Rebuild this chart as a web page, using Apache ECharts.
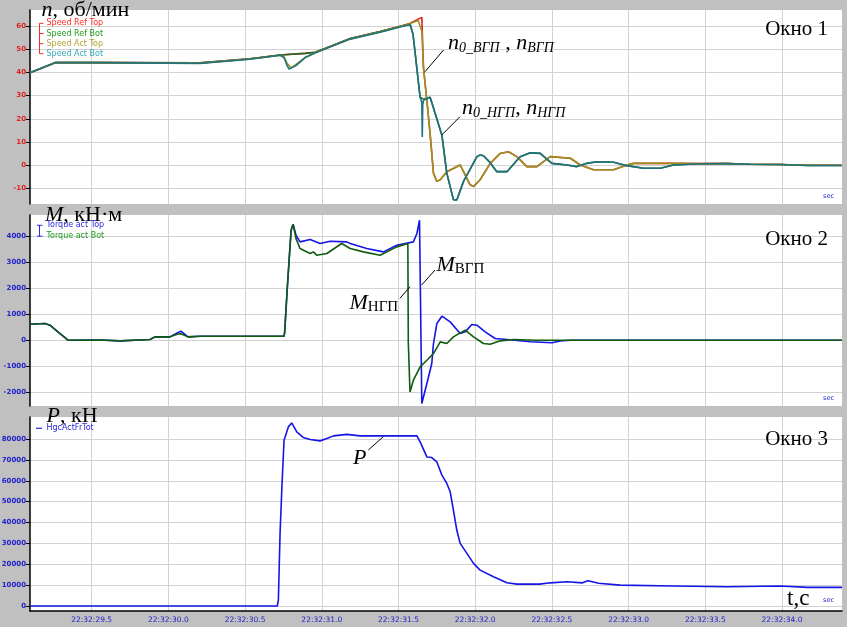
<!DOCTYPE html>
<html><head><meta charset="utf-8">
<script src="https://cdn.jsdelivr.net/npm/echarts@6/dist/echarts.min.js"></script>
<style>html,body{margin:0;padding:0;background:#c0c0c0}#c{width:847px;height:627px}</style>
</head><body><div id="c"></div><script>
// ---- tick labels ----
const xTicks = [29.5, 30, 30.5, 31, 31.5, 32, 32.5, 33, 33.5, 34];
const speedTicks = [-10, 0, 10, 20, 30, 40, 50, 60];
const torqueTicks = [-2000, -1000, 0, 1000, 2000, 3000, 4000];
const forceTicks = [0, 10000, 20000, 30000, 40000, 50000, 60000, 70000, 80000];
const seriesNames1 = ['Speed Ref Top', 'Speed Ref Bot', 'Speed Act Top', 'Speed Act Bot'];
const seriesNames2 = ['Torque act Top', 'Torque act Bot'];
const seriesNames3 = ['HgcActFrTot'];

// ---- data: [seconds after 22:32:00, value] ----
const speedRefTop = [[29.098,39.9],[29.261,44.3],[29.554,44.4],[30.206,44.2],[30.532,46.0],[30.728,47.6],[30.891,48.3],[30.956,48.8],[31.033,50.8],[31.185,54.8],[31.380,57.8],[31.543,60.6],[31.576,61.4],[31.652,63.9],[31.659,50.0],[31.663,42.0],[31.685,27.9],[31.706,13.6],[31.728,-3.6],[31.750,-7.1],[31.772,-6.4],[31.815,-2.9],[31.902,0],[31.967,-8.6],[31.989,-9.3],[32.032,-6.4],[32.098,0.7],[32.163,5.0],[32.217,5.7],[32.272,3.6],[32.337,-0.7],[32.402,-0.7],[32.489,3.6],[32.620,2.9],[32.685,0],[32.771,-2.1],[32.902,-2.1],[32.989,0],[33.032,0.7],[33.293,0.7],[33.463,0.6],[33.643,0.6],[33.793,0.3],[33.989,0.2],[34.168,-0.1],[34.391,-0.1]];
const speedRefBot = [[29.098,39.9],[29.261,44.3],[29.554,44.4],[30.206,44.2],[30.532,46.0],[30.728,47.6],[30.891,48.3],[30.956,48.8],[31.033,50.8],[31.185,54.8],[31.380,57.8],[31.543,60.6],[31.576,61.0],[31.595,56.5],[31.641,29.3],[31.663,28.5],[31.706,29.3],[31.717,27.0],[31.783,12.9],[31.815,-3.6],[31.858,-15.0],[31.869,-15.7],[31.880,-15.2],[31.924,-7.1],[32.011,3.6],[32.032,4.3],[32.054,4.0],[32.098,1.0],[32.141,-2.9],[32.207,-2.9],[32.293,3.6],[32.359,5.3],[32.424,5.0],[32.500,0.7],[32.598,0],[32.663,-0.7],[32.728,0.7],[32.793,1.4],[32.902,1.2],[32.989,-0.3],[33.097,-1.4],[33.206,-1.4],[33.293,0],[33.463,0.5],[33.643,0.6],[33.793,0.3],[33.989,0.2],[34.168,-0.2],[34.391,-0.2]];
const speedActTop = [[29.098,39.9],[29.261,44.3],[29.554,44.4],[30.206,44.1],[30.532,45.9],[30.728,47.5],[30.754,46.8],[30.774,44.0],[30.800,42.0],[30.832,43.5],[30.891,46.5],[30.956,48.6],[31.033,50.6],[31.185,54.6],[31.380,57.6],[31.543,60.5],[31.576,61.3],[31.628,62.6],[31.652,58.0],[31.663,42.0],[31.685,27.9],[31.706,13.6],[31.728,-3.6],[31.750,-7.1],[31.772,-6.4],[31.815,-2.9],[31.902,0],[31.967,-8.6],[31.989,-9.3],[32.032,-6.4],[32.098,0.7],[32.163,5.0],[32.217,5.7],[32.272,3.6],[32.337,-0.7],[32.402,-0.7],[32.489,3.6],[32.620,2.9],[32.685,0],[32.771,-2.1],[32.902,-2.1],[32.989,0],[33.032,0.7],[33.293,0.7],[33.463,0.6],[33.643,0.6],[33.793,0.3],[33.989,0.2],[34.168,-0.1],[34.391,-0.1]];
const speedActBot = [[29.098,39.9],[29.261,44.3],[29.554,44.3],[30.206,44.0],[30.532,45.8],[30.728,47.5],[30.754,46.5],[30.774,43.0],[30.787,41.5],[30.800,41.0],[30.832,43.0],[30.891,46.5],[30.956,48.5],[31.033,50.5],[31.185,54.5],[31.380,57.5],[31.543,60.3],[31.576,60.7],[31.595,56.5],[31.641,29.3],[31.652,27.0],[31.655,12.1],[31.658,26.0],[31.663,28.0],[31.706,29.3],[31.717,27.0],[31.783,12.9],[31.815,-3.6],[31.858,-15.0],[31.869,-15.7],[31.880,-15.2],[31.924,-7.1],[32.011,3.6],[32.032,4.3],[32.054,4.0],[32.098,1.0],[32.141,-2.9],[32.207,-2.9],[32.293,3.6],[32.359,5.3],[32.424,5.0],[32.500,0.7],[32.598,0],[32.663,-0.7],[32.728,0.7],[32.793,1.4],[32.902,1.2],[32.989,-0.3],[33.097,-1.4],[33.206,-1.4],[33.293,0],[33.463,0.5],[33.643,0.6],[33.793,0.3],[33.989,0.2],[34.168,-0.2],[34.391,-0.2]];

const torqueTop = [[29.098,614],[29.195,640],[29.228,576],[29.280,320],[29.326,100],[29.345,0],[29.554,10],[29.685,-25],[29.880,25],[29.913,128],[30.011,128],[30.057,280],[30.082,345],[30.128,128],[30.206,150],[30.467,150],[30.754,150],[30.758,300],[30.774,1900],[30.787,3070],[30.800,4220],[30.813,4450],[30.832,4030],[30.858,3774],[30.924,3866],[30.989,3712],[31.054,3800],[31.163,3774],[31.185,3712],[31.293,3520],[31.402,3390],[31.489,3647],[31.597,3774],[31.620,4096],[31.637,4607],[31.641,4550],[31.652,-2430],[31.685,-1663],[31.717,-895],[31.728,-128],[31.750,640],[31.783,921],[31.837,703],[31.902,256],[31.935,320],[31.978,601],[32.011,576],[32.065,320],[32.130,64],[32.207,25],[32.359,-60],[32.500,-100],[32.554,-30],[32.620,0],[34.391,0]];
const torqueBot = [[29.098,614],[29.195,640],[29.228,576],[29.280,320],[29.326,100],[29.345,0],[29.554,10],[29.685,-25],[29.880,25],[29.913,128],[30.011,128],[30.057,230],[30.082,250],[30.128,128],[30.206,150],[30.467,150],[30.754,150],[30.758,300],[30.774,1900],[30.787,3070],[30.800,4220],[30.813,4450],[30.832,3900],[30.858,3520],[30.924,3328],[30.945,3390],[30.967,3263],[31.033,3328],[31.130,3712],[31.185,3520],[31.271,3390],[31.380,3263],[31.489,3582],[31.561,3712],[31.564,-100],[31.575,-1985],[31.597,-1535],[31.641,-1025],[31.685,-768],[31.728,-512],[31.772,-64],[31.815,-128],[31.858,128],[31.902,281],[31.935,384],[31.989,128],[32.054,-128],[32.098,-153],[32.163,-25],[32.250,25],[32.400,0],[34.391,0]];

const force = [[29.098,0],[30.710,0],[30.717,2870],[30.728,34800],[30.741,58700],[30.754,79400],[30.782,85800],[30.804,87700],[30.837,83400],[30.880,80700],[30.924,79800],[30.989,79100],[31.033,80200],[31.076,81500],[31.163,82200],[31.250,81500],[31.402,81500],[31.620,81500],[31.641,78600],[31.685,71400],[31.717,71100],[31.750,69000],[31.783,62700],[31.815,58700],[31.837,54700],[31.858,45900],[31.880,36400],[31.902,30000],[31.946,25200],[31.989,20400],[32.032,17200],[32.119,14000],[32.207,11100],[32.272,10500],[32.420,10500],[32.489,11100],[32.598,11600],[32.700,11100],[32.735,12100],[32.805,10900],[32.944,10000],[33.293,9600],[33.643,9200],[33.989,9600],[34.168,8900],[34.391,8900]];

// ---- chart ----
const chart = echarts.init(document.getElementById('c'), null, {renderer: 'canvas'});
const GRID = '#d2d2d2';
const grids = [
  {left: 30, right: 5, top: 10, height: 194},
  {left: 30, right: 5, top: 215, height: 191},
  {left: 30, right: 5, top: 417, height: 194}
].map(g => Object.assign(g, {show: true, backgroundColor: '#ffffff', borderWidth: 0, containLabel: false, outerBoundsMode: 'none'}));

function xAx(i) {
  return {
    gridIndex: i, type: 'value', min: 29.098, max: 34.391,
    axisLine: {show: i === 2, onZero: false, lineStyle: {color: '#000', width: 1.5}},
    axisTick: {show: false, customValues: xTicks},
    axisLabel: {show: i === 2, customValues: xTicks, color: '#2222cc', fontSize: 7.5, fontFamily: 'DejaVu Sans', margin: 5,
      formatter: v => '22:32:' + v.toFixed(1)},
    splitLine: {show: true, lineStyle: {color: GRID, width: 1}}
  };
}
function yAx(i, min, max, ticks, color) {
  return {
    gridIndex: i, type: 'value', min: min, max: max,
    axisLine: {show: true, onZero: false, lineStyle: {color: '#000', width: 1.5}},
    axisTick: {show: true, length: 4, customValues: ticks, lineStyle: {color: '#000'}},
    axisLabel: {customValues: ticks, color: color, fontSize: 7, fontWeight: 'bold', fontFamily: 'DejaVu Sans', margin: 4,
      formatter: v => String(v)},
    splitLine: {show: true, lineStyle: {color: GRID, width: 1}}
  };
}
function line(name, data, color, xi) {
  return {name: name, type: 'line', xAxisIndex: xi, yAxisIndex: xi, data: data, showSymbol: false,
    symbol: 'none', lineStyle: {color: color, width: 1.6}, itemStyle: {color: color}, animation: false, silent: true};
}

// ---- text helpers ----
const cv = document.createElement('canvas').getContext('2d');
function serif(size, italic) { return (italic ? 'italic ' : '') + size + 'px "Liberation Serif"'; }
function txt(x, y, text, font, fill, align) {
  return {type: 'text', x: x, y: y, z: 100, silent: true,
    style: {text: text, font: font, fill: fill || '#000', align: align || 'left', verticalAlign: 'middle',
      textAlign: align || 'left', textVerticalAlign: 'middle'}};
}
function row(x, y, pieces) {
  const out = [];
  let cx = x;
  pieces.forEach(p => {
    const f = serif(p.s, p.i);
    out.push(txt(cx, y + (p.dy || 0), p.t, f));
    cv.font = f;
    cx += cv.measureText(p.t).width;
  });
  return out;
}
function seg(x1, y1, x2, y2, color, w) {
  return {type: 'line', z: 100, silent: true, shape: {x1: x1, y1: y1, x2: x2, y2: y2}, style: {stroke: color || '#000', lineWidth: w || 1}};
}
const small = '8px "DejaVu Sans"';
const g = [];
// panel titles
g.push(...row(41.5, 10, [{t: 'n', s: 22, i: true}, {t: ', об/мин', s: 22}]));
g.push(...row(45, 215, [{t: 'M', s: 22, i: true}, {t: ', кН·м', s: 22}]));
g.push(...row(46.5, 416.5, [{t: 'P', s: 22, i: true}, {t: ', кН', s: 22}]));
g.push(txt(828, 29, 'Окно 1', serif(21), '#000', 'right'));
g.push(txt(828, 239.5, 'Окно 2', serif(21), '#000', 'right'));
g.push(txt(828, 439.5, 'Окно 3', serif(21), '#000', 'right'));
g.push(txt(787, 599, 't,c', serif(23), '#000', 'left'));
g.push(txt(834, 196.5, 'sec', '6.5px "DejaVu Sans"', '#2222cc', 'right'));
g.push(txt(834, 398, 'sec', '6.5px "DejaVu Sans"', '#2222cc', 'right'));
g.push(txt(834, 600, 'sec', '6.5px "DejaVu Sans"', '#2222cc', 'right'));
// legends
const lc1 = ['#ff2a2a', '#1f9a1f', '#b4a232', '#38a8b8'];
const ly1 = [23.3, 33.5, 43.7, 53.7];
g.push(seg(39.5, 23.3, 39.5, 53.7, '#ff2a2a'));
ly1.forEach((y, k) => { g.push(seg(39.5, y, 43.5, y, '#ff2a2a')); g.push(txt(46.5, y, seriesNames1[k], small, lc1[k])); });
const lc2 = ['#2a2ae0', '#1f9a1f'];
const ly2 = [225.3, 236.2];
g.push(seg(39.5, 225.3, 39.5, 236.2, '#2a2ae0'));
ly2.forEach((y, k) => { g.push(seg(37, y, 42.5, y, '#2a2ae0')); g.push(txt(46.5, y, seriesNames2[k], small, lc2[k])); });
g.push(seg(36, 428.3, 42, 428.3, '#2a2ae0', 1.2));
g.push(txt(46.5, 428.3, seriesNames3[0], small, '#2a2ae0'));
// annotations
g.push(...row(448, 43.5, [{t: 'n', s: 22, i: true}, {t: '0_ВГП', s: 14, i: true, dy: 5}, {t: ' , ', s: 22}, {t: 'n', s: 22, i: true}, {t: 'ВГП', s: 14, i: true, dy: 5}]));
g.push(seg(425, 71.7, 443.5, 50));
g.push(...row(462, 108.5, [{t: 'n', s: 22, i: true}, {t: '0_НГП', s: 14, i: true, dy: 5}, {t: ', ', s: 22}, {t: 'n', s: 22, i: true}, {t: 'НГП', s: 14, i: true, dy: 5}]));
g.push(seg(441.7, 135, 460, 116.7));
g.push(...row(436.5, 265, [{t: 'M', s: 22, i: true}, {t: 'ВГП', s: 15, dy: 4}]));
g.push(seg(421.7, 285, 435, 270));
g.push(...row(349.5, 303.5, [{t: 'M', s: 22, i: true}, {t: 'НГП', s: 15, dy: 4}]));
g.push(seg(400, 298.3, 410, 286.7));
g.push(...row(353, 458.5, [{t: 'P', s: 22, i: true}]));
g.push(seg(368.3, 450, 383.3, 436.7));

chart.setOption({
  backgroundColor: '#c0c0c0',
  animation: false,
  grid: grids,
  xAxis: [xAx(0), xAx(1), xAx(2)],
  yAxis: [
    yAx(0, -16.9, 67.1, speedTicks, '#e02020'),
    yAx(1, -2526, 4806, torqueTicks, '#2222cc'),
    yAx(2, -2395, 90539, forceTicks, '#2222cc')
  ],
  series: [
    line(seriesNames1[0], speedRefTop, '#e02020', 0),
    line(seriesNames1[1], speedRefBot, '#1f6a1f', 0),
    line(seriesNames1[2], speedActTop, '#9c9222', 0),
    line(seriesNames1[3], speedActBot, '#1f727e', 0),
    line(seriesNames2[0], torqueTop, '#1515e5', 1),
    line(seriesNames2[1], torqueBot, '#0f5c0f', 1),
    line(seriesNames3[0], force, '#1515e5', 2)
  ],
  graphic: {elements: g}
});
</script></body></html>
